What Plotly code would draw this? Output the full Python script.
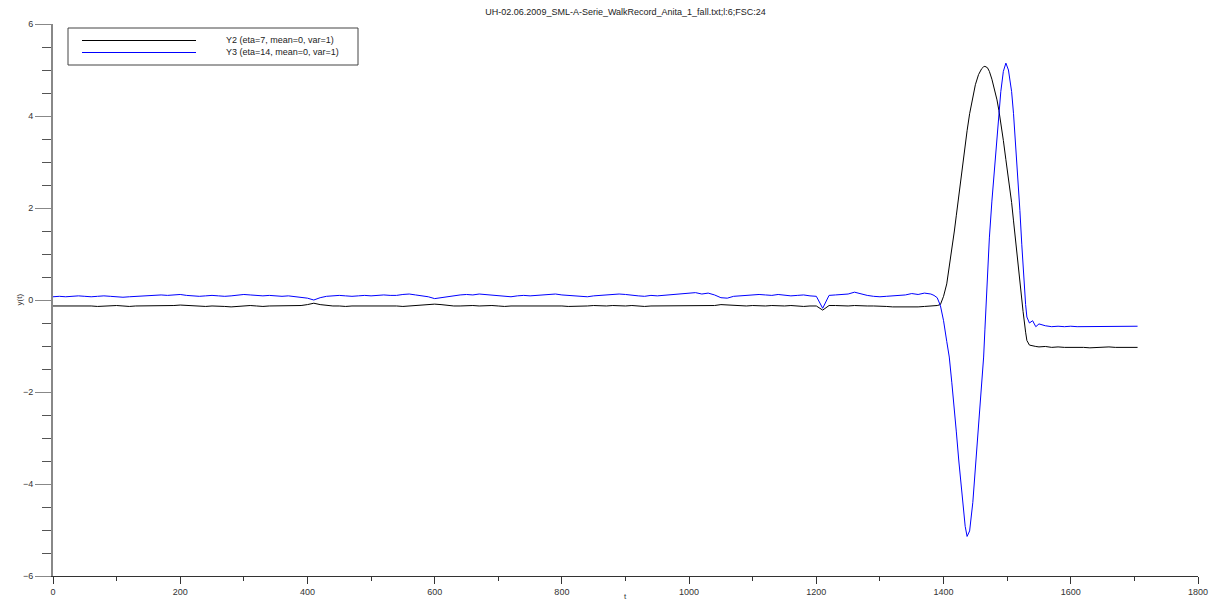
import plotly.graph_objects as go

# ---------------- data ----------------
t_flat = list(range(0, 1381, 10))

y3_flat = [
    0.07, 0.08, 0.07, 0.08, 0.09, 0.08, 0.07, 0.08, 0.09, 0.08,
    0.07, 0.06, 0.07, 0.08, 0.08, 0.09, 0.10, 0.11, 0.10, 0.11,
    0.12, 0.10, 0.09, 0.08, 0.09, 0.10, 0.09, 0.08, 0.09, 0.10,
    0.12, 0.11, 0.10, 0.09, 0.10, 0.09, 0.08, 0.09, 0.07, 0.06,
    0.04, 0.00, 0.05, 0.08, 0.09, 0.10, 0.09, 0.08, 0.09, 0.10,
    0.09, 0.10, 0.11, 0.10, 0.10, 0.12, 0.13, 0.11, 0.09, 0.07,
    0.03, 0.05, 0.08, 0.10, 0.11, 0.12, 0.11, 0.13, 0.12, 0.10,
    0.09, 0.08, 0.07, 0.09, 0.10, 0.09, 0.10, 0.11, 0.12, 0.13,
    0.11, 0.10, 0.09, 0.08, 0.07, 0.09, 0.10, 0.11, 0.12, 0.13,
    0.12, 0.10, 0.09, 0.08, 0.10, 0.09, 0.10, 0.11, 0.12, 0.13,
    0.14, 0.16, 0.13, 0.15, 0.11, 0.05, 0.04, 0.08, 0.09, 0.10,
    0.11, 0.12, 0.11, 0.10, 0.12, 0.10, 0.09, 0.10, 0.11, 0.09,
    0.08, -0.18, 0.10, 0.11, 0.12, 0.13, 0.17, 0.13, 0.10, 0.08,
    0.07, 0.08, 0.09, 0.10, 0.11, 0.14, 0.12, 0.15, 0.13,
]

y2_flat = [
    -0.13, -0.13, -0.12, -0.13, -0.13, -0.12, -0.13, -0.14, -0.13, -0.13,
    -0.12, -0.13, -0.14, -0.13, -0.13, -0.12, -0.13, -0.13, -0.12, -0.12,
    -0.11, -0.12, -0.13, -0.13, -0.14, -0.13, -0.13, -0.14, -0.15, -0.14,
    -0.13, -0.12, -0.13, -0.14, -0.13, -0.13, -0.12, -0.13, -0.13, -0.12,
    -0.10, -0.07, -0.10, -0.12, -0.13, -0.13, -0.14, -0.13, -0.13, -0.12,
    -0.12, -0.13, -0.13, -0.12, -0.13, -0.14, -0.13, -0.12, -0.11, -0.11,
    -0.09, -0.10, -0.12, -0.13, -0.13, -0.12, -0.12, -0.13, -0.12, -0.12,
    -0.13, -0.14, -0.13, -0.13, -0.12, -0.13, -0.13, -0.12, -0.12, -0.13,
    -0.13, -0.14, -0.14, -0.13, -0.13, -0.12, -0.13, -0.13, -0.12, -0.13,
    -0.13, -0.12, -0.13, -0.14, -0.13, -0.13, -0.12, -0.13, -0.13, -0.12,
    -0.12, -0.12, -0.13, -0.13, -0.12, -0.10, -0.11, -0.12, -0.13, -0.13,
    -0.12, -0.13, -0.13, -0.12, -0.13, -0.13, -0.12, -0.13, -0.14, -0.13,
    -0.13, -0.22, -0.12, -0.12, -0.13, -0.13, -0.12, -0.13, -0.13, -0.13,
    -0.13, -0.14, -0.15, -0.15, -0.16, -0.15, -0.15, -0.14, -0.13,
]

t_peak = [1385, 1390, 1395, 1400, 1405, 1409, 1413, 1417, 1420, 1424,
          1429, 1434, 1437, 1441, 1446, 1450, 1455, 1460, 1463, 1465,
          1469, 1472, 1476, 1480, 1484, 1487, 1490, 1494, 1498, 1502,
          1507, 1510, 1513, 1515, 1518, 1520, 1523, 1525, 1529, 1531,
          1535, 1540, 1545]

y2_peak = [-0.13, -0.12, -0.10, 0.08, 0.35, 0.70, 1.07, 1.50, 1.83, 2.28,
           2.82, 3.35, 3.68, 4.05, 4.43, 4.68, 4.90, 5.03, 5.07, 5.08,
           5.05, 4.97, 4.80, 4.60, 4.35, 4.12, 3.87, 3.47, 3.05, 2.65,
           2.12, 1.72, 1.32, 1.02, 0.60, 0.33, -0.02, -0.25, -0.70, -0.88,
           -0.98, -1.00, -1.01]

y3_peak = [0.10, 0.05, -0.12, -0.45, -0.90, -1.24, -1.80, -2.35, -2.85, -3.50,
           -4.30, -4.92, -5.14, -5.02, -4.40, -3.70, -2.80, -1.80, -1.24, -0.65,
           0.65, 1.35, 2.15, 2.85, 3.45, 4.05, 4.53, 4.97, 5.15, 5.00,
           4.53, 4.05, 3.45, 3.00, 2.30, 1.95, 1.20, 0.71, -0.10, -0.37,
           -0.50, -0.45, -0.58]

t_end = [1550, 1560, 1570, 1580, 1590, 1600, 1610, 1620, 1630, 1640,
         1650, 1660, 1670, 1680, 1690, 1700, 1705]
y2_end = [-1.02, -1.01, -1.03, -1.02, -1.03, -1.03, -1.02, -1.03, -1.04, -1.03,
          -1.03, -1.02, -1.03, -1.03, -1.04, -1.03, -1.03]
y3_end = [-0.52, -0.56, -0.58, -0.57, -0.58, -0.57, -0.58, -0.58, -0.57, -0.58,
          -0.57, -0.58, -0.58, -0.57, -0.58, -0.58, -0.57]

t_all = t_flat + t_peak + t_end
y2_all = y2_flat + y2_peak + y2_end
y3_all = y3_flat + y3_peak + y3_end

x_ticks = [0, 200, 400, 600, 800, 1000, 1200, 1400, 1600, 1800]
y_ticks = [-6, -4, -2, 0, 2, 4, 6]

title_text = "UH-02.06.2009_SML-A-Serie_WalkRecord_Anita_1_fall.txt;l:6;FSC:24"
name_y2 = "Y2 (eta=7, mean=0, var=1)"
name_y3 = "Y3 (eta=14, mean=0, var=1)"

# ---------------- figure ----------------
FONT = "Liberation Sans, Arial, sans-serif"
W, H = 1211, 608
L, R, T, B = 53, 13, 24, 32
pw, ph = W - L - R, H - T - B


def px(x):
    return (x - L) / pw


def py(y):
    return (H - B - y) / ph


fig = go.Figure()
fig.add_trace(go.Scatter(x=t_all, y=y2_all, mode="lines", name=name_y2,
                         line=dict(color="#000000", width=1), showlegend=False))
fig.add_trace(go.Scatter(x=t_all, y=y3_all, mode="lines", name=name_y3,
                         line=dict(color="#0000ff", width=1), showlegend=False))

fig.update_layout(
    width=W, height=H,
    margin=dict(l=L, r=R, t=T, b=B, autoexpand=False),
    paper_bgcolor="white", plot_bgcolor="white",
    font=dict(family=FONT, size=9, color="#333333"),
    title=dict(text=title_text, x=0.5, xref="paper", xanchor="center",
               y=1 - 12 / H, yref="container", yanchor="middle",
               font=dict(family=FONT, size=9, color="#222222")),
    xaxis=dict(range=[0, 1800], tickvals=x_ticks, ticks="outside", ticklen=7,
               automargin=False,
               tickcolor="#333333", tickwidth=1, showline=True,
               linecolor="#333333", linewidth=1, showgrid=False, zeroline=False,
               minor=dict(dtick=100, tick0=0, ticks="outside", ticklen=4,
                          tickcolor="#333333", showgrid=False),
               tickfont=dict(size=9, color="#333333")),
    yaxis=dict(range=[-6, 6], tickvals=y_ticks, ticks="outside", ticklen=16,
               automargin=False,
               tickcolor="#888888", tickwidth=1, showline=True,
               linecolor="#888888", linewidth=2, showgrid=False, zeroline=False,
               minor=dict(dtick=0.5, tick0=0, ticks="outside", ticklen=9,
                          tickcolor="#555555", showgrid=False),
               tickfont=dict(size=9, color="#333333")),
)

# axis titles
fig.add_annotation(text="y(t)", xref="paper", yref="paper", x=px(12), y=py(300),
                   showarrow=False, textangle=-90,
                   font=dict(family=FONT, size=8, color="#333333"))
fig.add_annotation(text="t", xref="paper", yref="paper", x=px(625), y=py(603),
                   showarrow=False, font=dict(family=FONT, size=8, color="#333333"))

# legend (drawn as box + sample lines + labels)
fig.add_shape(type="rect", xref="paper", yref="paper",
              x0=px(68), x1=px(358), y0=py(28), y1=py(65),
              line=dict(color="#444444", width=1), fillcolor="white", layer="above")
for yy, col, nm in [(40.5, "#000000", name_y2), (52.5, "#0000ff", name_y3)]:
    fig.add_shape(type="line", xref="paper", yref="paper",
                  x0=px(82), x1=px(196), y0=py(yy), y1=py(yy),
                  line=dict(color=col, width=1), layer="above")
    fig.add_annotation(text=nm, xref="paper", yref="paper", x=px(224), y=py(yy),
                       xanchor="left", yanchor="middle", showarrow=False,
                       font=dict(family=FONT, size=9, color="#222222"))

fig.write_html("out.html")
